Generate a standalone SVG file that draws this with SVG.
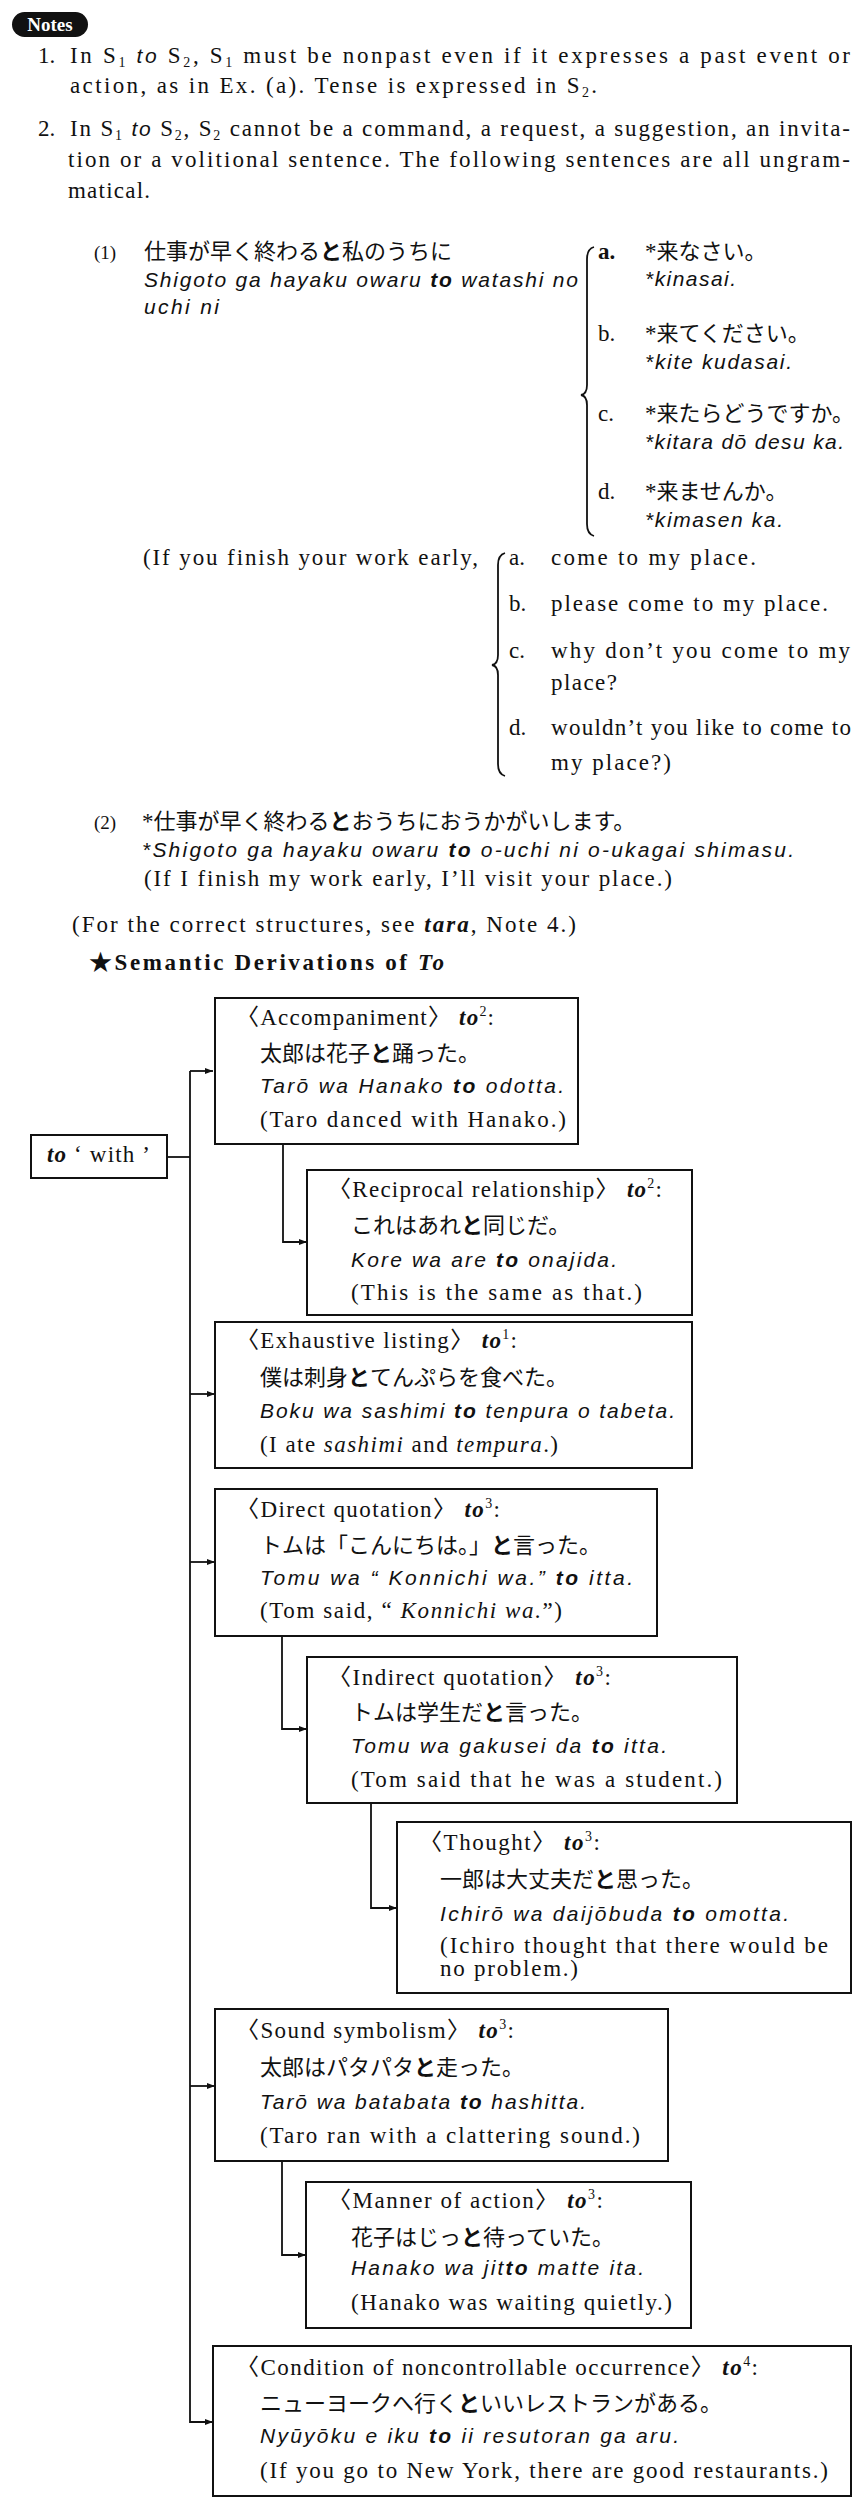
<svg xmlns="http://www.w3.org/2000/svg" width="864" height="2520" viewBox="0 0 864 2520">
<defs>
<style>
text{fill:#111}
.s{font-family:"Liberation Serif","Noto Sans CJK JP",serif;font-size:23px}
.r{font-family:"Liberation Sans",sans-serif;font-style:italic;font-size:21px}
.j{font-family:"Noto Sans CJK JP",sans-serif;font-size:22px}
.b{font-weight:bold}
.i{font-style:italic}
.bi{font-weight:bold;font-style:italic}
.ri{font-family:"Liberation Sans",sans-serif;font-style:italic;font-size:21px}
.sub{font-size:14px;baseline-shift:-4px}
.sup{font-size:14px;baseline-shift:9px}
.lab{font-family:"Liberation Serif",serif;font-size:19px}
.box{fill:#fff;stroke:#111;stroke-width:2}
.con{fill:none;stroke:#111;stroke-width:1.8}
.brace{fill:none;stroke:#111;stroke-width:1.8}
</style>
<marker id="ah" viewBox="0 0 8 6" refX="8" refY="3" markerWidth="8" markerHeight="6" markerUnits="userSpaceOnUse" orient="auto"><path d="M0,0 L8,3 L0,6 z" fill="#111"/></marker>
</defs>
<rect x="0" y="0" width="864" height="2520" fill="#fff"/>

<g id="notes">
<rect x="12" y="12" width="76" height="25" rx="12.5" fill="#111"/>
<text x="50" y="31" text-anchor="middle" style="font-family:'Liberation Serif',serif;font-size:19px;font-weight:bold;fill:#fff">Notes</text>
<text class="s" x="38" y="63">1.</text>
<text class="s" x="70" y="63" textLength="780">In S<tspan class="sub">1</tspan> <tspan class="ri">to</tspan> S<tspan class="sub">2</tspan>, S<tspan class="sub">1</tspan> must be nonpast even if it expresses a past event or</text>
<text class="s" x="70" y="93" textLength="527">action, as in Ex. (a).  Tense is expressed in S<tspan class="sub">2</tspan>.</text>
<text class="s" x="38" y="136">2.</text>
<text class="s" x="70" y="136" textLength="780">In S<tspan class="sub">1</tspan> <tspan class="ri">to</tspan> S<tspan class="sub">2</tspan>, S<tspan class="sub">2</tspan> cannot be a command, a request, a suggestion, an invita-</text>
<text class="s" x="68" y="167" textLength="782">tion or a volitional sentence.  The following sentences are all ungram-</text>
<text class="s" x="68" y="198" textLength="82">matical.</text>
</g>

<g id="example1">
<text class="lab" x="94" y="259">(1)</text>
<text class="j" x="144" y="259">仕事が早く終わる<tspan class="b">と</tspan>私のうちに</text>
<text class="r" x="144" y="287" textLength="434">Shigoto ga hayaku owaru <tspan class="b">to</tspan> watashi no</text>
<text class="r" x="144" y="314" textLength="75">uchi ni</text>
<path class="brace" d="M594,247 Q587,249 587,259 L587,385 Q587,394 581,395 Q587,396 587,405 L587,524 Q587,534 594,536"/>
<text class="s b" x="598" y="259">a.</text>
<text class="j" x="645" y="259"><tspan class="s">*</tspan>来なさい。</text>
<text class="r" x="645" y="286" textLength="91">*kinasai.</text>
<text class="s" x="598" y="341">b.</text>
<text class="j" x="645" y="341"><tspan class="s">*</tspan>来てください。</text>
<text class="r" x="645" y="369" textLength="147">*kite kudasai.</text>
<text class="s" x="598" y="421">c.</text>
<text class="j" x="645" y="421"><tspan class="s">*</tspan>来たらどうですか。</text>
<text class="r" x="645" y="449" textLength="199">*kitara dō desu ka.</text>
<text class="s" x="598" y="499">d.</text>
<text class="j" x="645" y="499"><tspan class="s">*</tspan>来ませんか。</text>
<text class="r" x="645" y="527" textLength="138">*kimasen ka.</text>
<text class="s" x="143" y="565" textLength="335">(If you finish your work early,</text>
<path class="brace" d="M505,553 Q498,555 498,565 L498,655 Q498,664 492,665 Q498,666 498,675 L498,764 Q498,774 505,776"/>
<text class="s" x="509" y="565">a.</text>
<text class="s" x="551" y="565" textLength="205">come to my place.</text>
<text class="s" x="509" y="611">b.</text>
<text class="s" x="551" y="611" textLength="277">please come to my place.</text>
<text class="s" x="509" y="658">c.</text>
<text class="s" x="551" y="658" textLength="299">why don’t you come to my</text>
<text class="s" x="551" y="690" textLength="66">place?</text>
<text class="s" x="509" y="735">d.</text>
<text class="s" x="551" y="735" textLength="300">wouldn’t you like to come to</text>
<text class="s" x="551" y="770" textLength="120">my place?)</text>
</g>

<g id="example2">
<text class="lab" x="94" y="829">(2)</text>
<text class="j" x="142" y="829"><tspan class="s">*</tspan>仕事が早く終わる<tspan class="b">と</tspan>おうちにおうかがいします。</text>
<text class="r" x="142" y="857" textLength="652">*Shigoto ga hayaku owaru <tspan class="b">to</tspan> o-uchi ni o-ukagai shimasu.</text>
<text class="s" x="144" y="886" textLength="528">(If I finish my work early, I’ll visit your place.)</text>
<text class="s" x="72" y="932" textLength="504">(For the correct structures, see <tspan class="bi">tara</tspan>, Note 4.)</text>
<text class="s b" x="89" y="970" textLength="355">★Semantic Derivations of <tspan class="i">To</tspan></text>
</g>

<g id="connectors">
<path class="con" d="M167,1157 H190"/>
<path class="con" d="M190,1071 H213" marker-end="url(#ah)"/>
<path class="con" d="M190,1071 V2422 H213" marker-end="url(#ah)"/>
<path class="con" d="M190,1394 H215" marker-end="url(#ah)"/>
<path class="con" d="M190,1562 H215" marker-end="url(#ah)"/>
<path class="con" d="M190,2086 H215" marker-end="url(#ah)"/>
<path class="con" d="M283,1144 V1242 H307" marker-end="url(#ah)"/>
<path class="con" d="M282,1636 V1729 H307" marker-end="url(#ah)"/>
<path class="con" d="M371,1803 V1908 H397" marker-end="url(#ah)"/>
<path class="con" d="M282,2161 V2255 H306" marker-end="url(#ah)"/>
</g>

<g id="to-with">
<rect class="box" x="31" y="1135" width="136" height="43"/>
<text class="s" x="47" y="1162" textLength="103"><tspan class="bi">to</tspan> ‘ with ’</text>
</g>

<g id="accompaniment">
<rect class="box" x="215" y="998" width="363" height="146"/>
<text class="s" x="236" y="1025" textLength="258">〈Accompaniment〉 <tspan class="bi">to</tspan><tspan class="sup">2</tspan>:</text>
<text class="j" x="260" y="1061">太郎は花子<tspan class="b">と</tspan>踊った。</text>
<text class="r" x="260" y="1093" textLength="304">Tarō wa Hanako <tspan class="b">to</tspan> odotta.</text>
<text class="s" x="260" y="1127" textLength="306">(Taro danced with Hanako.)</text>
</g>

<g id="reciprocal">
<rect class="box" x="307" y="1170" width="385" height="145"/>
<text class="s" x="328" y="1197" textLength="334">〈Reciprocal relationship〉 <tspan class="bi">to</tspan><tspan class="sup">2</tspan>:</text>
<text class="j" x="351" y="1233">これはあれ<tspan class="b">と</tspan>同じだ。</text>
<text class="r" x="351" y="1267" textLength="266">Kore wa are <tspan class="b">to</tspan> onajida.</text>
<text class="s" x="351" y="1300" textLength="291">(This is the same as that.)</text>
</g>

<g id="exhaustive">
<rect class="box" x="215" y="1322" width="477" height="146"/>
<text class="s" x="236" y="1348" textLength="281">〈Exhaustive listing〉 <tspan class="bi">to</tspan><tspan class="sup">1</tspan>:</text>
<text class="j" x="260" y="1385">僕は刺身<tspan class="b">と</tspan>てんぷらを食べた。</text>
<text class="r" x="260" y="1418" textLength="415">Boku wa sashimi <tspan class="b">to</tspan> tenpura o tabeta.</text>
<text class="s" x="260" y="1452" textLength="298">(I ate <tspan class="i">sashimi</tspan> and <tspan class="i">tempura</tspan>.)</text>
</g>

<g id="direct">
<rect class="box" x="215" y="1489" width="442" height="147"/>
<text class="s" x="236" y="1517" textLength="264">〈Direct quotation〉 <tspan class="bi">to</tspan><tspan class="sup">3</tspan>:</text>
<text class="j" x="260" y="1553">トムは「こんにちは。」<tspan class="b">と</tspan>言った。</text>
<text class="r" x="260" y="1585" textLength="373">Tomu wa “ Konnichi wa.” <tspan class="b">to</tspan> itta.</text>
<text class="s" x="260" y="1618" textLength="302">(Tom said, “ <tspan class="i">Konnichi wa.</tspan>”)</text>
</g>

<g id="indirect">
<rect class="box" x="307" y="1657" width="430" height="146"/>
<text class="s" x="328" y="1685" textLength="283">〈Indirect quotation〉 <tspan class="bi">to</tspan><tspan class="sup">3</tspan>:</text>
<text class="j" x="351" y="1720">トムは学生だ<tspan class="b">と</tspan>言った。</text>
<text class="r" x="351" y="1753" textLength="316">Tomu wa gakusei da <tspan class="b">to</tspan> itta.</text>
<text class="s" x="351" y="1787" textLength="371">(Tom said that he was a student.)</text>
</g>

<g id="thought">
<rect class="box" x="397" y="1822" width="454" height="171"/>
<text class="s" x="419" y="1850" textLength="181">〈Thought〉 <tspan class="bi">to</tspan><tspan class="sup">3</tspan>:</text>
<text class="j" x="440" y="1887">一郎は大丈夫だ<tspan class="b">と</tspan>思った。</text>
<text class="r" x="440" y="1921" textLength="349">Ichirō wa daijōbuda <tspan class="b">to</tspan> omotta.</text>
<text class="s" x="440" y="1953" textLength="388">(Ichiro thought that there would be</text>
<text class="s" x="440" y="1976" textLength="138">no problem.)</text>
</g>

<g id="sound">
<rect class="box" x="215" y="2009" width="453" height="152"/>
<text class="s" x="236" y="2038" textLength="278">〈Sound symbolism〉 <tspan class="bi">to</tspan><tspan class="sup">3</tspan>:</text>
<text class="j" x="260" y="2075">太郎はパタパタ<tspan class="b">と</tspan>走った。</text>
<text class="r" x="260" y="2109" textLength="326">Tarō wa batabata <tspan class="b">to</tspan> hashitta.</text>
<text class="s" x="260" y="2143" textLength="380">(Taro ran with a clattering sound.)</text>
</g>

<g id="manner">
<rect class="box" x="306" y="2182" width="385" height="146"/>
<text class="s" x="328" y="2208" textLength="275">〈Manner of action〉 <tspan class="bi">to</tspan><tspan class="sup">3</tspan>:</text>
<text class="j" x="351" y="2245">花子はじっ<tspan class="b">と</tspan>待っていた。</text>
<text class="r" x="351" y="2275" textLength="293">Hanako wa jit<tspan class="b">to</tspan> matte ita.</text>
<text class="s" x="351" y="2310" textLength="321">(Hanako was waiting quietly.)</text>
</g>

<g id="condition">
<rect class="box" x="213" y="2346" width="638" height="150"/>
<text class="s" x="236" y="2375" textLength="522">〈Condition of noncontrollable occurrence〉 <tspan class="bi">to</tspan><tspan class="sup">4</tspan>:</text>
<text class="j" x="260" y="2411">ニューヨークへ行く<tspan class="b">と</tspan>いいレストランがある。</text>
<text class="r" x="260" y="2443" textLength="419">Nyūyōku e iku <tspan class="b">to</tspan> ii resutoran ga aru.</text>
<text class="s" x="260" y="2478" textLength="568">(If you go to New York, there are good restaurants.)</text>
</g>
</svg>
